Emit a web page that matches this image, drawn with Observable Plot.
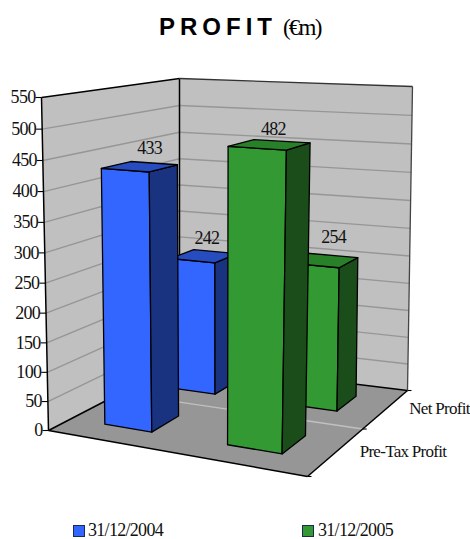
<!DOCTYPE html>
<html><head><meta charset="utf-8">
<script src="https://cdn.jsdelivr.net/npm/d3@7"></script>
<script src="https://cdn.jsdelivr.net/npm/@observablehq/plot@0.6"></script>
<style>
html,body{margin:0;padding:0;background:#fff;overflow:hidden}
#wrap{position:relative;width:470px;height:539px}
#title{position:absolute;left:0;top:0;width:470px;height:60px;color:#000}
#title .a{position:absolute;left:159px;top:13px;font:bold 24px "Liberation Sans";letter-spacing:5px;white-space:nowrap}
#title .b{position:absolute;left:283px;top:15px;font:23px "Liberation Serif";letter-spacing:-1.8px;white-space:nowrap}
#chart{position:absolute;left:0;top:60px}
.lg{position:absolute;top:522px;font:18px/16px "Liberation Serif";letter-spacing:-.7px;white-space:nowrap;color:#111}
.sw{position:absolute;top:525px;width:10px;height:10px;border:1px solid #1a2a50}
</style></head><body>
<div id="wrap">
<div id="title"><span class="a">PROFIT</span><span class="b">(€m)</span></div>
<div id="chart"></div>
</div>
<script>
const categories = ["Pre-Tax Profit", "Net Profit"];
const seriesNames = ["31/12/2004", "31/12/2005"];
const values2004 = [433, 242];
const values2005 = [482, 254];
const valueTicks = [0,50,100,150,200,250,300,350,400,450,500,550];

// styles and layout
const faceColors = [
  {front:"#3366FF", side:"#1A3380", top:"#264CBF"},
  {front:"#339933", side:"#1A4D1A", top:"#288028"}
];
const maxValue = 550, barSize = 0.2, perspective = 1.05;
const corners = {
  floor:{a:[48,430], b:[307,476], c:[407,390], d:[179,362]},
  top:{a:[41,97], b:[316,112], c:[412,86], d:[179,78]}
};
const labelNudge = [[[10,-18],[3,-18]],[[4,-15],[11,-23]]];
const categoryNudge = [23,0];

function homography({a,b,c,d}){
  const sx=a[0]-b[0]+c[0]-d[0], sy=a[1]-b[1]+c[1]-d[1];
  const dx1=b[0]-c[0], dy1=b[1]-c[1], dx2=d[0]-c[0], dy2=d[1]-c[1];
  const det=dx1*dy2-dx2*dy1;
  const g=(sx*dy2-dx2*sy)/det, h=(dx1*sy-sx*dy1)/det;
  return (u,w)=>{
    const D=g*u+h*w+1;
    return [((b[0]-a[0]+g*b[0])*u+(d[0]-a[0]+h*d[0])*w+a[0])/D,
            ((b[1]-a[1]+g*b[1])*u+(d[1]-a[1]+h*d[1])*w+a[1])/D];
  };
}
const floorH=homography(corners.floor), topH=homography(corners.top);
function project(u,w,value){
  const t=value/maxValue, tau=t/(t+perspective*(1-t));
  const f=floorH(u,w), p=topH(u,w);
  return [f[0]+(p[0]-f[0])*tau, f[1]+(p[1]-f[1])*tau];
}

const walls=[], faces=[];
function ring(list,id,color,pts){
  [...pts,pts[0]].forEach(q=>{const [x,y]=project(...q);list.push({id,color,x,y});});
}
ring(walls,"left","#C0C0C0",[[0,0,0],[0,1,0],[0,1,maxValue],[0,0,maxValue]]);
ring(walls,"back","#C0C0C0",[[0,1,0],[1,1,0],[1,1,maxValue],[0,1,maxValue]]);
ring(walls,"floor","#969696",[[0,0,0],[1,0,0],[1,1,0],[0,1,0]]);

const series=[values2004,values2005];
const bars=[];
categories.map((c,i)=>i).reverse().forEach(ci=>{
  series.forEach((vals,si)=>{
    const uc=(si+.5)/series.length, wc=(ci+.5)/categories.length, v=vals[ci];
    const u0=uc-barSize/2,u1=uc+barSize/2,w0=wc-barSize/2,w1=wc+barSize/2;
    const col=faceColors[si], id=`${si}-${ci}`;
    ring(faces,id+"f",col.front,[[u0,w0,0],[u1,w0,0],[u1,w0,v],[u0,w0,v]]);
    ring(faces,id+"s",col.side,[[u1,w0,0],[u1,w1,0],[u1,w1,v],[u1,w0,v]]);
    ring(faces,id+"t",col.top,[[u0,w0,v],[u1,w0,v],[u1,w1,v],[u0,w1,v]]);
    const [x,y]=project(uc,wc,v), n=labelNudge[si][ci];
    bars.push({x:x+n[0],y:y+n[1],label:String(v)});
  });
});

function seg(p,q,stroke,width){
  const [x1,y1]=project(...p),[x2,y2]=project(...q);
  return {x1,y1,x2,y2,stroke,width};
}
const grid=[], edges=[], ticks=[], tickLabels=[];
valueTicks.forEach(v=>{
  const [x,y]=project(0,0,v);
  ticks.push({x1:x-6,y1:y,x2:x,y2:y});
  tickLabels.push({x:x-6,y:y,label:String(v)});
  if(v>0&&v<maxValue){
    grid.push(seg([0,0,v],[0,1,v]),seg([0,1,v],[1,1,v]));
  }
});
const floorLine=seg([0,.5,0],[1,.5,0]);
edges.push(
  seg([0,0,0],[1,0,0],"#000",1.5),seg([1,0,0],[1,1,0],"#000",1.5),
  seg([0,0,0],[0,1,0],"#000",1.5),seg([0,1,0],[1,1,0],"#000",1.5),
  seg([0,0,0],[0,0,maxValue],"#000",1.5),seg([0,1,0],[0,1,maxValue],"#000",1.5),
  seg([0,0,maxValue],[0,1,maxValue],"#000",1.5),
  seg([0,1,maxValue],[1,1,maxValue],"#333",1.3),seg([1,1,0],[1,1,maxValue],"#444",1.3)
);
[0,.5,1].forEach(w=>{
  const [x,y]=project(1,w,0);
  ticks.push({x1:x,y1:y,x2:x+4,y2:y});
});
const catLabels=categories.map((c,i)=>{
  const [x,y]=project(1,(i+.5)/categories.length,0);
  return {x:x+categoryNudge[0],y:y+categoryNudge[1],label:c};
});

const serif="Liberation Serif";
const H=450;
const xy={x1:"x1",y1:"y1",x2:"x2",y2:"y2"};
const textStyle={fontFamily:serif,fill:"#111"};
const plot=Plot.plot({
  width:470,height:H,margin:0,
  x:{domain:[0,470],range:[0,470],axis:null},
  y:{domain:[60,60+H],range:[0,H],axis:null},
  color:{type:"identity"},
  style:{background:"#fff",overflow:"visible"},
  marks:[
    Plot.line(walls,{x:"x",y:"y",z:"id",fill:"color",stroke:null}),
    Plot.link(grid,{...xy,stroke:"#969696",strokeWidth:1.4}),
    Plot.link([floorLine],{...xy,stroke:"#C0C0C0",strokeWidth:1.4}),
    Plot.link(edges,{...xy,stroke:"stroke",strokeWidth:"width"}),
    Plot.link(ticks,{...xy,stroke:"#000",strokeWidth:1.1}),
    Plot.line(faces,{x:"x",y:"y",z:"id",fill:"color",stroke:"#000",strokeWidth:1.3,strokeLinejoin:"round"}),
    Plot.text(tickLabels,{x:"x",y:"y",text:"label",textAnchor:"end",fontSize:18,...textStyle}),
    Plot.text(bars,{x:"x",y:"y",text:"label",fontSize:18,...textStyle}),
    Plot.text(catLabels,{x:"x",y:"y",text:"label",textAnchor:"start",fontSize:17,...textStyle})
  ]
});
plot.querySelectorAll("text").forEach(t=>{t.style.letterSpacing="-.7px";});
document.getElementById("chart").appendChild(plot);

const wrap=document.getElementById("wrap");
[[73,88],[302,318]].forEach((p,i)=>{
  const s=document.createElement("div");s.className="sw";s.style.left=p[0]+"px";s.style.background=faceColors[i].front;wrap.appendChild(s);
  const l=document.createElement("div");l.className="lg";l.style.left=p[1]+"px";l.textContent=seriesNames[i];wrap.appendChild(l);
});
</script>
</body></html>
